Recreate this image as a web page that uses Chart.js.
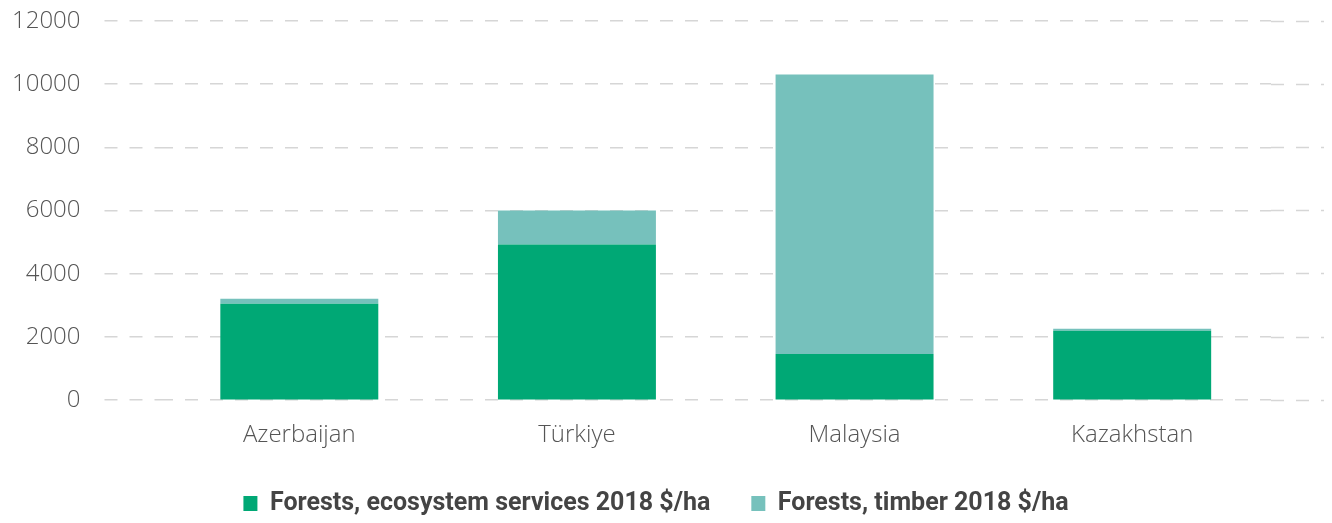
<!DOCTYPE html>
<html>
<head>
<meta charset="utf-8">
<script src="https://cdn.jsdelivr.net/npm/chart.js@4"></script>
<style>
    html, body { margin: 0; padding: 0; background: #fff; }
    #wrap { width: 1332px; height: 523px; }
</style>
</head>
<body>
<div id="wrap"><canvas id="chart"></canvas></div>
<script>
const countries = ['Azerbaijan', 'Türkiye', 'Malaysia', 'Kazakhstan'];
const ecosystemServices = [3050, 4930, 1460, 2200];
const timber = [160, 1070, 8850, 60];
const yTicks = [0, 2000, 4000, 6000, 8000, 10000, 12000];

const green = 'rgb(0,168,117)';
const teal = 'rgb(118,193,188)';
const gridColor = '#d6d6d6';
const dash = [13, 12];
const axisFont = { family: '"Open Sans", Roboto, sans-serif', size: 24, weight: '300' };

Chart.defaults.font.family = 'Roboto, "Open Sans", sans-serif';

const data = {
    labels: countries,
    datasets: [
        {
            label: 'Forests, ecosystem services 2018 $/ha',
            data: ecosystemServices,
            backgroundColor: green,
            borderWidth: 0,
        },
        {
            label: 'Forests, timber 2018 $/ha',
            data: timber,
            backgroundColor: teal,
            borderWidth: 0,
        }
    ]
};

const config = {
    type: 'bar',
    data: data,
    options: {
        responsive: true,
        maintainAspectRatio: false,
        animation: false,
        datasets: {
            bar: {
                categoryPercentage: 0.569,
                barPercentage: 1,
            },
        },
        layout: {
            padding: { left: -12, right: 8, top: 21, bottom: -3 },
        },
        scales: {
            x: {
                stacked: true,
                // hidden ticks just push the labels down
                grid: { display: false, drawTicks: true, tickLength: 21 },
                border: { display: false },
                ticks: {
                    color: '#555',
                    padding: 0,
                    font: axisFont,
                },
            },
            y: {
                stacked: true,
                min: yTicks[0],
                max: yTicks[yTicks.length - 1],
                border: { display: false, dash: dash },
                grid: {
                    color: gridColor,
                    lineWidth: 1.5,
                    // ticks stretch the dashed lines out to the left
                    drawTicks: true,
                    tickLength: 56,
                    tickColor: gridColor,
                    tickWidth: 1.5,
                    tickBorderDash: dash,
                },
                afterBuildTicks: (axis) => {
                    axis.ticks = yTicks.map(v => ({ value: v }));
                },
                afterFit: (axis) => {
                    axis.paddingTop = 0;
                    axis.paddingBottom = 0;
                },
                ticks: {
                    color: '#555',
                    padding: 24,
                    font: axisFont,
                    callback: (value) => String(value),
                },
            },
            // right-hand axis only used to carry the dashed lines to the edge
            y2: {
                position: 'right',
                min: yTicks[0],
                max: yTicks[yTicks.length - 1],
                border: { display: false },
                grid: {
                    drawOnChartArea: false,
                    drawTicks: true,
                    tickLength: 53,
                    tickColor: gridColor,
                    tickWidth: 1.5,
                    tickBorderDash: dash,
                },
                afterBuildTicks: (axis) => {
                    axis.ticks = yTicks.map(v => ({ value: v }));
                },
                ticks: { display: false },
            },
        },
        plugins: {
            legend: {
                position: 'bottom',
                labels: {
                    color: '#444',
                    boxWidth: 14,
                    boxHeight: 15,
                    padding: 41,
                    font: { size: 25, weight: 'bold' },
                },
            },
            tooltip: { enabled: false },
        },
    },
};

const ctx = document.getElementById('chart').getContext('2d');
const chart = new Chart(ctx, config);
</script>
</body>
</html>
